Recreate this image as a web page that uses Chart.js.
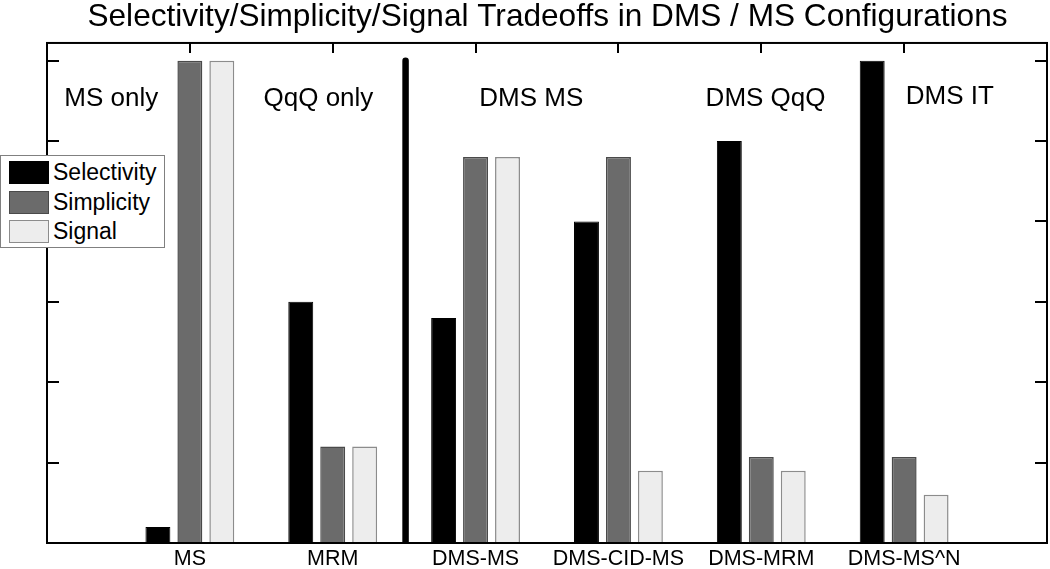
<!DOCTYPE html>
<html>
<head>
<meta charset="utf-8">
<title>Selectivity/Simplicity/Signal Tradeoffs</title>
<script src="https://cdn.jsdelivr.net/npm/chart.js@4/dist/chart.umd.min.js"></script>
<style>
    html, body { margin: 0; padding: 0; background: #fff; }
    #wrap { position: relative; width: 1050px; height: 569px; }
    #legend {
        position: absolute; left: 0; top: 155px; width: 163px; height: 91px;
        border: 1px solid #808080; background: #fff;
        font-family: 'Liberation Sans', Arial, sans-serif; font-size: 23px; color: #000;
    }
    #legend .item { position: absolute; left: 8px; height: 23px; display: flex; align-items: center; }
    #legend .sw { width: 40px; height: 23px; box-sizing: border-box; border: 1px solid; margin-right: 4px; }
</style>
</head>
<body>
<div id="wrap">
    <canvas id="chart" width="1050" height="569"></canvas>
    <div id="legend"></div>
</div>
<script>
// Valores (escala 0..6)
const categories  = ['MS', 'MRM', 'DMS-MS', 'DMS-CID-MS', 'DMS-MRM', 'DMS-MS^N'];
const selectivity = [0.2, 3.0, 2.8, 4.0, 5.0, 6.0];
const simplicity  = [6.0, 1.2, 4.8, 4.8, 1.07, 1.07];
const signal      = [6.0, 1.2, 4.8, 0.9, 0.9, 0.6];
const yTicks      = [1, 2, 3, 4, 5, 6];
const groupNames  = ['MS only', 'QqQ only', 'DMS MS', 'DMS QqQ', 'DMS IT'];

const FONT = "'Liberation Sans', Arial, sans-serif";

// posições dos rótulos de grupo (unidades do eixo)
const notes = [
    { x: 0.45, y: 5.44 },
    { x: 1.90, y: 5.44 },
    { x: 3.39, y: 5.44 },
    { x: 5.03, y: 5.44 },
    { x: 6.32, y: 5.46 }
];
const separator = { x: 2.51, top: 6 };

const toPoints = (arr) => arr.map((v, i) => ({ x: i + 1, y: v }));

// Moldura com marcas internas + rótulos de grupo
const framePlugin = {
    id: 'frame',
    afterDatasetsDraw: (chart) => {
        const { ctx, scales: { x, y } } = chart;
        ctx.save();
        ctx.fillStyle = '#000';
        ctx.font = `26px ${FONT}`;
        ctx.textAlign = 'center';
        ctx.textBaseline = 'alphabetic';
        notes.forEach((n, i) => {
            ctx.fillText(groupNames[i], x.getPixelForValue(n.x), y.getPixelForValue(n.y));
        });
        ctx.restore();
    },
    afterDraw: (chart) => {
        const { ctx, chartArea: a, scales: { x, y } } = chart;
        ctx.save();
        ctx.strokeStyle = '#000';
        ctx.lineWidth = 2;
        ctx.strokeRect(a.left, a.top, a.right - a.left, a.bottom - a.top);
        ctx.beginPath();
        yTicks.forEach(v => {
            const py = Math.round(y.getPixelForValue(v));
            ctx.moveTo(a.left, py); ctx.lineTo(a.left + 12, py);
            ctx.moveTo(a.right, py); ctx.lineTo(a.right - 12, py);
        });
        categories.forEach((c, i) => {
            const px = Math.round(x.getPixelForValue(i + 1));
            ctx.moveTo(px, a.top); ctx.lineTo(px, a.top + 10);
        });
        ctx.stroke();
        ctx.restore();
    }
};

const chart = new Chart(document.getElementById('chart'), {
    type: 'bar',
    plugins: [framePlugin],
    data: {
        datasets: [
            {
                label: 'Selectivity',
                data: toPoints(selectivity),
                backgroundColor: '#000000',
                borderColor: '#000000',
                borderWidth: 1
            },
            {
                label: 'Simplicity',
                data: toPoints(simplicity),
                backgroundColor: '#6b6b6b',
                borderColor: '#4a4a4a',
                borderWidth: 1.5
            },
            {
                label: 'Signal',
                data: toPoints(signal),
                backgroundColor: '#ededed',
                borderColor: '#8c8c8c',
                borderWidth: 1.5
            },
            {
                type: 'line',
                label: '_sep',
                data: [{ x: separator.x, y: 0 }, { x: separator.x, y: separator.top }],
                borderColor: '#000',
                borderWidth: 6.5,
                borderCapStyle: 'round',
                pointRadius: 0,
                clip: { left: 5, right: 5, top: 10, bottom: 0 }
            }
        ]
    },
    options: {
        responsive: false,
        animation: false,
        events: [],
        layout: { padding: { left: 47, right: 2, top: 0, bottom: 0 } },
        categoryPercentage: 0.671,
        barPercentage: 0.78,
        plugins: {
            legend: { display: false },
            tooltip: { enabled: false },
            title: {
                display: true,
                text: 'Selectivity/Simplicity/Signal Tradeoffs in DMS / MS Configurations',
                color: '#000',
                font: { family: FONT, size: 31.6, weight: 'normal', lineHeight: 1.1 },
                padding: { top: 0, bottom: 8.2 }
            }
        },
        scales: {
            x: {
                type: 'linear',
                min: 0,
                max: 7,
                offset: false,
                grid: { display: false, drawTicks: false, offset: false },
                border: { display: false },
                afterFit: (scale) => { scale.height = 26; },
                ticks: {
                    stepSize: 1,
                    autoSkip: false,
                    maxRotation: 0,
                    padding: 3,
                    color: '#000',
                    font: { family: FONT, size: 21.5 },
                    callback: (v) => categories[v - 1] || ''
                }
            },
            y: {
                display: false,
                min: 0,
                max: 6.22
            }
        }
    }
});

// Legenda em HTML a partir dos datasets
const legendEl = document.getElementById('legend');
chart.data.datasets.filter(d => d.type !== 'line').forEach((d, i) => {
    const item = document.createElement('div');
    item.className = 'item';
    item.style.top = (5 + i * 29.5) + 'px';
    const sw = document.createElement('span');
    sw.className = 'sw';
    sw.style.background = d.backgroundColor;
    sw.style.borderColor = d.borderColor;
    const tx = document.createElement('span');
    tx.textContent = d.label;
    item.appendChild(sw);
    item.appendChild(tx);
    legendEl.appendChild(item);
});
</script>
</body>
</html>
